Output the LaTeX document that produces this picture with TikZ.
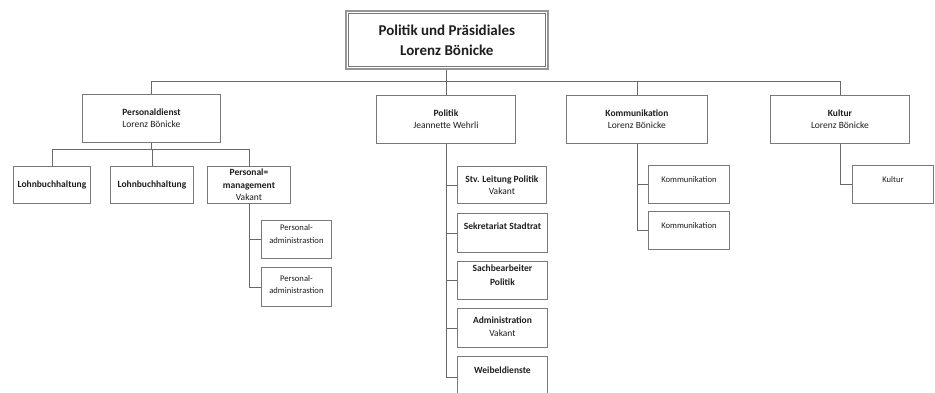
\documentclass[tikz,border=0pt]{standalone}
\usepackage{fontspec}
\setmainfont{Carlito}
\definecolor{lncol}{RGB}{105,105,105}
\definecolor{bxcol}{RGB}{120,120,120}
\definecolor{txcol}{RGB}{30,30,30}
\definecolor{outcol}{RGB}{150,150,150}
\begin{document}
\begin{tikzpicture}[x=1pt,y=-1pt,
  box/.style={draw=bxcol, line width=0.9pt, fill=white, text=txcol, inner sep=0pt,
    align=center, anchor=north west},
  midf/.style={font=\fontsize{9.5}{12}\selectfont},
  smallf/.style={font=\fontsize{8.6}{12.5}\selectfont},
  conn/.style={draw=lncol, line width=0.9pt}
]
\useasboundingbox (0,0) rectangle (935,392);
\clip (0,0) rectangle (935,392);
% top
\node[box, draw=outcol, line width=1.6pt, minimum width=202pt, minimum height=58pt,
      font=\fontsize{15}{20}\selectfont\bfseries] (top) at (345,10)
      {Politik und Präsidiales\\Lorenz Bönicke};
\draw[draw=bxcol, line width=0.6pt] ([shift={(3,3)}]top.north west) rectangle ([shift={(-3,-3)}]top.south east);
% level 1
\node[box, midf, minimum width=138pt, minimum height=48pt] (pd) at (82,94) {\textbf{Personaldienst}\\Lorenz Bönicke};
\node[box, midf, minimum width=139pt, minimum height=48pt] (pol) at (376,95) {\textbf{Politik}\\Jeannette Wehrli};
\node[box, midf, minimum width=141pt, minimum height=48pt] (kom) at (566,95) {\textbf{Kommunikation}\\Lorenz Bönicke};
\node[box, midf, minimum width=139pt, minimum height=48pt] (kul) at (770,95) {\textbf{Kultur}\\Lorenz Bönicke};
% Personaldienst children
\node[box, font=\fontsize{9.5}{12}\selectfont\bfseries, minimum width=77pt, minimum height=37pt] (lb1) at (13,166) {Lohnbuchhaltung};
\node[box, font=\fontsize{9.5}{12}\selectfont\bfseries, minimum width=83pt, minimum height=37pt] (lb2) at (110,166) {Lohnbuchhaltung};
\node[box, minimum width=83pt, minimum height=37pt, font=\fontsize{9.5}{12.5}\selectfont] (pm) at (207,166) {\textbf{Personal=}\\\textbf{management}\\Vakant};
\node[box, smallf, minimum width=70pt, text height=23pt, text depth=15pt] (pa1) at (261,220) {Personal-\\administrastion};
\node[box, smallf, minimum width=70pt, text height=26.5pt, text depth=12.5pt] (pa2) at (261,267) {Personal-\\administrastion};
% Politik children
\node[box, midf, minimum width=89pt, minimum height=37pt] (stv) at (457,166) {\textbf{Stv. Leitung Politik}\\Vakant};
\node[box, midf, minimum width=90pt, text height=16pt, text depth=23pt] (sek) at (457,213) {\textbf{Sekretariat Stadtrat}};
\node[box, font=\fontsize{9.5}{13.5}\selectfont, minimum width=90pt, text height=24pt, text depth=14pt] (sach) at (457,261) {\textbf{Sachbearbeiter}\\\textbf{Politik}};
\node[box, font=\fontsize{9.5}{13}\selectfont, minimum width=90pt, text height=28.5pt, text depth=10.5pt] (adm) at (457,308) {\textbf{Administration}\\Vakant};
\node[box, midf, minimum width=90pt, text height=17pt, text depth=25pt] (wei) at (457,356) {\textbf{Weibeldienste}};
% Kommunikation children
\node[box, smallf, minimum width=81pt, text height=17pt, text depth=21pt] (ks1) at (648,165) {Kommunikation};
\node[box, smallf, minimum width=81pt, text height=17pt, text depth=21pt] (ks2) at (648,211) {Kommunikation};
% Kultur child
\node[box, smallf, minimum width=81pt, text height=17.5pt, text depth=20.5pt] (kus) at (852,165) {Kultur};
% connectors
\coordinate (bus) at (0,81);
\coordinate (bus2) at (0,149);
\draw[conn] (top.south) -- (top.south |- bus);
\draw[conn] (pd.north) -- (pd.north |- bus) -- (kul.north |- bus) -- (kul.north);
\draw[conn] (pol.north) -- (pol.north |- bus);
\draw[conn] (kom.north) -- (kom.north |- bus);
\draw[conn] (pd.south) -- (pd.south |- bus2);
\draw[conn] (lb1.north) -- (lb1.north |- bus2) -- (pm.north |- bus2) -- (pm.north);
\draw[conn] (lb2.north) -- (lb2.north |- bus2);
\draw[conn] (pm.south) |- (pa1.west);
\draw[conn] (pm.south) |- (pa2.west);
\draw[conn] (pol.south) |- (stv.west);
\draw[conn] (pol.south) |- (sek.west);
\draw[conn] (pol.south) |- (sach.west);
\draw[conn] (pol.south) |- (adm.west);
\draw[conn] (pol.south) |- (wei.west);
\draw[conn] (kom.south) |- (ks1.west);
\draw[conn] (kom.south) |- (ks2.west);
\draw[conn] (kul.south) |- (kus.west);
\end{tikzpicture}
\end{document}
